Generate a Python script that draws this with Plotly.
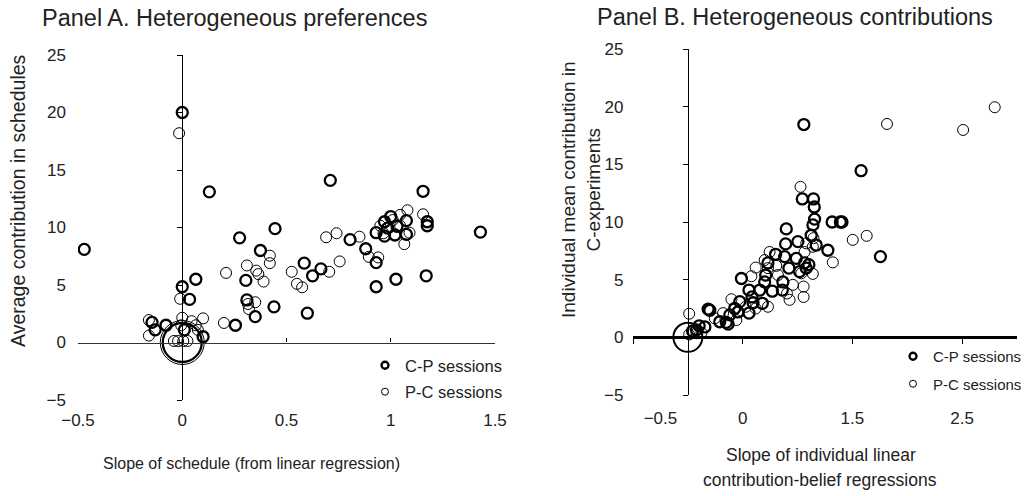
import plotly.graph_objects as go

# ---------------- Panel A data ----------------
a_cp_x = [0.0, -0.47, 0.13, 0.71, 0.445, 0.275, 0.375, 0.065, 0.0, 0.035, 0.305, 0.31, 0.35, 0.44,
          0.585, 0.625, 0.665, 0.6, 0.255, -0.078, -0.145, -0.13, 0.1, 0.01,
          1.155, 1.43, 1.175, 1.175, 1.075, 0.93, 0.805, 0.88, 0.93, 0.93, 1.025, 1.17,
          0.97, 1.0, 0.985, 1.03, 0.97, 1.02, 1.075]
a_cp_y = [20.0, 8.1, 13.1, 14.1, 9.9, 9.1, 8.0, 5.5, 4.85, 3.75, 5.4, 3.7, 2.25, 3.1,
          6.9, 5.8, 6.4, 2.55, 1.5, 1.5, 1.75, 1.1, 0.5, 1.1,
          13.15, 9.6, 10.5, 10.15, 10.6, 9.55, 8.95, 8.15, 6.95, 4.85, 5.5, 5.8,
          10.5, 10.95, 9.95, 10.1, 9.25, 9.35, 9.4]
a_pc_x = [-0.015, 0.21, 0.31, 0.355, 0.365, 0.39, 0.42, 0.42, 0.525, 0.55, 0.575, 0.69, 0.74,
          0.705, 0.755, -0.01, 0.315, 0.35, 0.32, 0.1, 0.2, -0.16, -0.16, 0.0,
          -0.04, -0.02, 0.005, 0.025, 0.045, 0.065, 0.075, -0.005,
          1.08, 1.155, 1.045, 1.09, 1.065, 0.85, 0.895, 0.94, 0.95, 1.01, 1.045, 0.965]
a_pc_y = [18.2, 6.05, 6.7, 6.25, 5.95, 5.3, 7.55, 6.9, 6.15, 5.1, 4.8, 9.15, 9.5,
          6.15, 7.05, 3.8, 3.35, 3.5, 2.9, 2.1, 1.7, 1.95, 0.6, 2.15,
          0.13, 0.13, 0.13, 0.13, 1.85, 1.5, 1.1, 1.5,
          11.5, 11.15, 11.1, 9.55, 8.55, 9.2, 7.45, 7.4, 10.15, 10.65, 10.15, 9.5]
a_origin_x = [0.0]
a_origin_y = [0.0]

# ---------------- Panel B data ----------------
b_cp_x = [1.057, 1.043, 1.145, 1.152, 1.155, 1.14, 1.315, 1.39, 1.405, 0.897, 1.124, 1.17, 1.003,
          0.891, 1.276, 0.8, 0.882, 0.988, 1.064, 1.103, 0.73, 0.921, 1.018, 1.079, 0.488, 0.709,
          0.7, 0.866, 0.557, 0.655, 0.77, 0.861, 0.585, 0.473, 0.679, 0.594, 0.427, 0.457, 0.557,
          0.382, 0.185, 0.2, 0.291, 0.367, 0.35, 0.155, 0.103, 0.079, 0.043, 1.579, 1.755]
b_cp_y = [18.45, 12.0, 12.0, 11.3, 10.25, 9.75, 10.0, 10.0, 10.0, 9.4, 8.85, 8.0, 8.3,
          8.1, 7.55, 7.2, 7.0, 6.85, 6.45, 6.3, 6.45, 6.0, 5.7, 6.0, 5.1, 5.4,
          4.8, 4.8, 4.1, 4.1, 4.0, 4.1, 3.5, 3.1, 2.95, 3.0, 2.5, 2.2, 2.1,
          1.95, 2.45, 2.35, 1.35, 1.15, 1.3, 0.9, 1.0, 0.65, 0.55, 14.45, 7.0]
b_pc_x = [2.797, 2.509, 1.815, 1.027, 1.63, 1.503, 1.321, 1.064, 1.145, 1.034, 1.139, 0.806, 0.73,
          0.618, 0.579, 0.821, 0.957, 1.055, 1.055, 0.927, 0.903, 0.73, 0.397, 0.618, 0.245,
          0.321, 0.527, 0.012, 0.012, 0.079, 0.124, 0.442, 0.7, 0.745, 1.079, 1.139]
b_pc_y = [19.95, 17.98, 18.5, 13.05, 8.8, 8.45, 6.5, 7.4, 8.6, 5.55, 5.5, 6.2, 6.0,
          6.05, 5.3, 5.4, 4.55, 4.4, 3.5, 3.25, 3.8, 2.65, 3.3, 2.5, 1.65,
          2.1, 2.65, 2.05, 0.25, 0.35, 0.4, 1.5, 6.7, 7.4, 8.15, 7.85]
b_origin_x = [0.0]
b_origin_y = [0.0]

# tick labels
a_x_ticks = [-0.5, 0, 0.5, 1, 1.5]
a_x_labels = ["\u22120.5", "0", "0.5", "1", "1.5"]
y_ticks = [-5, 0, 5, 10, 15, 20, 25]
y_labels = ["\u22125", "0", "5", "10", "15", "20", "25"]
b_x_label_pos = [-0.25, 0.5, 1.5, 2.5]
b_x_labels = ["\u22120.5", "0", "1.5", "2.5"]
b_x_tick_marks = [-0.5, 0.5, 1.5, 2.5]

W, H = 1035, 496
FONT = "Arial, Liberation Sans, Helvetica, sans-serif"
TXT = "#222222"

def px(v):
    return v / W

def py(v):
    return 1 - v / H

# domains (pixel-derived)
ax_dom = [px(78), px(495)]
ay_dom = [py(400), py(55)]
bx_dom = [px(633), px(1017)]
by_dom = [py(395), py(49)]

ax_range = [-0.5, 1.5]
bx_range = [-0.5, 3.0]
y_range = [-5, 25]

def zero_pos(dom, rng):
    return dom[0] + (dom[1] - dom[0]) * (0 - rng[0]) / (rng[1] - rng[0])

fig = go.Figure()

cp_marker = dict(symbol="circle-open", size=11, color="black", line=dict(width=2.3, color="black"))
pc_marker = dict(symbol="circle-open", size=11, color="black", line=dict(width=1, color="black"))
cp_leg = dict(symbol="circle-open", size=7, color="black", line=dict(width=2.3, color="black"))
pc_leg = dict(symbol="circle-open", size=7, color="black", line=dict(width=1, color="black"))

# Panel A
fig.add_trace(go.Scatter(x=a_cp_x, y=a_cp_y, mode="markers", marker=cp_marker, name="C-P sessions",
                         xaxis="x", yaxis="y", legend="legend", legendgroup="a1", showlegend=False))
fig.add_trace(go.Scatter(x=a_pc_x, y=a_pc_y, mode="markers", marker=pc_marker, name="P-C sessions",
                         xaxis="x", yaxis="y", legend="legend", legendgroup="a2", showlegend=False))
fig.add_trace(go.Scatter(x=a_origin_x, y=a_origin_y, mode="markers",
                         marker=dict(symbol="circle-open", size=39, color="black", line=dict(width=2.3)),
                         xaxis="x", yaxis="y", showlegend=False))
fig.add_trace(go.Scatter(x=a_origin_x, y=a_origin_y, mode="markers",
                         marker=dict(symbol="circle-open", size=44, color="black", line=dict(width=1)),
                         xaxis="x", yaxis="y", showlegend=False))
# legend entries (panel A)
fig.add_trace(go.Scatter(x=[None], y=[None], mode="markers", marker=cp_leg, name="C-P sessions",
                         xaxis="x", yaxis="y", legend="legend", legendgroup="a1"))
fig.add_trace(go.Scatter(x=[None], y=[None], mode="markers", marker=pc_leg, name="P-C sessions",
                         xaxis="x", yaxis="y", legend="legend", legendgroup="a2"))

# Panel B
fig.add_trace(go.Scatter(x=b_cp_x, y=b_cp_y, mode="markers", marker=cp_marker, name="C-P sessions",
                         xaxis="x2", yaxis="y2", legend="legend2", legendgroup="b1", showlegend=False))
fig.add_trace(go.Scatter(x=b_pc_x, y=b_pc_y, mode="markers", marker=pc_marker, name="P-C sessions",
                         xaxis="x2", yaxis="y2", legend="legend2", legendgroup="b2", showlegend=False))
fig.add_trace(go.Scatter(x=b_origin_x, y=b_origin_y, mode="markers",
                         marker=dict(symbol="circle-open", size=29, color="black", line=dict(width=2)),
                         xaxis="x2", yaxis="y2", showlegend=False))
fig.add_trace(go.Scatter(x=[None], y=[None], mode="markers", marker=cp_leg, name="C-P sessions",
                         xaxis="x2", yaxis="y2", legend="legend2", legendgroup="b1"))
fig.add_trace(go.Scatter(x=[None], y=[None], mode="markers", marker=pc_leg, name="P-C sessions",
                         xaxis="x2", yaxis="y2", legend="legend2", legendgroup="b2"))

tickfont = dict(family=FONT, size=17, color=TXT)

fig.update_layout(
    width=W, height=H,
    margin=dict(l=0, r=0, t=0, b=0),
    paper_bgcolor="white", plot_bgcolor="white",
    font=dict(family=FONT, color=TXT),
    xaxis=dict(domain=ax_dom, range=ax_range, anchor="free",
               position=zero_pos(ay_dom, y_range),
               tickmode="array", tickvals=a_x_ticks, ticktext=a_x_labels,
               ticks="inside", ticklen=4, tickcolor="black", tickwidth=1,
               showline=True, linecolor="#333333", linewidth=1.3,
               showgrid=False, zeroline=False, tickfont=tickfont,
               ticklabelstandoff=62, automargin=False, fixedrange=True),
    yaxis=dict(domain=ay_dom, range=y_range, anchor="free",
               position=zero_pos(ax_dom, ax_range),
               tickmode="array", tickvals=y_ticks, ticktext=y_labels,
               ticks="outside", ticklen=5, tickcolor="black", tickwidth=1,
               showline=True, linecolor="black", linewidth=1,
               showgrid=False, zeroline=False, tickfont=tickfont,
               ticklabelstandoff=108, automargin=False, fixedrange=True),
    xaxis2=dict(domain=bx_dom, range=bx_range, anchor="free",
                position=zero_pos(by_dom, y_range),
                tickmode="array", tickvals=b_x_label_pos, ticktext=b_x_labels,
                ticks="", showline=True, linecolor="black", linewidth=2.5,
                minor=dict(tickmode="array", tickvals=b_x_tick_marks, ticks="outside",
                           ticklen=5, tickcolor="black", tickwidth=1, showgrid=False),
                showgrid=False, zeroline=False, tickfont=tickfont,
                ticklabelstandoff=65, automargin=False, fixedrange=True),
    yaxis2=dict(domain=by_dom, range=y_range, anchor="free",
                position=zero_pos(bx_dom, bx_range),
                tickmode="array", tickvals=y_ticks, ticktext=y_labels,
                ticks="outside", ticklen=5, tickcolor="black", tickwidth=1,
                showline=True, linecolor="black", linewidth=1,
                showgrid=False, zeroline=False, tickfont=tickfont,
                ticklabelstandoff=56, automargin=False, fixedrange=True),
    legend=dict(x=px(365), y=py(348), xanchor="left", yanchor="top",
                font=dict(family=FONT, size=16.5, color=TXT), bgcolor="rgba(0,0,0,0)",
                traceorder="grouped", tracegroupgap=2),
    legend2=dict(x=px(893), y=py(340), xanchor="left", yanchor="top",
                 font=dict(family=FONT, size=15, color=TXT), bgcolor="rgba(0,0,0,0)",
                 traceorder="grouped", tracegroupgap=5),
    showlegend=True,
)

ann_font = dict(family=FONT, color=TXT)
fig.add_annotation(text="Panel A. Heterogeneous preferences", x=px(40), y=py(18), xref="paper", yref="paper",
                   xanchor="left", yanchor="middle", showarrow=False, font=dict(ann_font, size=23.5))
fig.add_annotation(text="Panel B. Heterogeneous contributions", x=px(795), y=py(17), xref="paper", yref="paper",
                   xanchor="center", yanchor="middle", showarrow=False, font=dict(ann_font, size=23.5))
fig.add_annotation(text="Average contribution in schedules", x=px(18), y=py(201), xref="paper", yref="paper",
                   xanchor="center", yanchor="middle", textangle=-90, showarrow=False, font=dict(ann_font, size=19.5))
fig.add_annotation(text="Individual mean contribution in<br>C-experiments", x=px(581), y=py(190),
                   xref="paper", yref="paper", xanchor="center", yanchor="middle", textangle=-90,
                   showarrow=False, font=dict(ann_font, size=19))
fig.add_annotation(text="Slope of schedule (from linear regression)", x=px(251), y=py(463), xref="paper",
                   yref="paper", xanchor="center", yanchor="middle", showarrow=False, font=dict(ann_font, size=16))
fig.add_annotation(text="Slope of individual linear", x=px(821), y=py(455), xref="paper",
                   yref="paper", xanchor="center", yanchor="middle", showarrow=False, font=dict(ann_font, size=17.5))
fig.add_annotation(text="contribution-belief regressions", x=px(820), y=py(480), xref="paper",
                   yref="paper", xanchor="center", yanchor="middle", showarrow=False, font=dict(ann_font, size=17.5))

fig.write_html("out.html", config={"displayModeBar": False},
               post_script="document.body.style.margin='0';")
